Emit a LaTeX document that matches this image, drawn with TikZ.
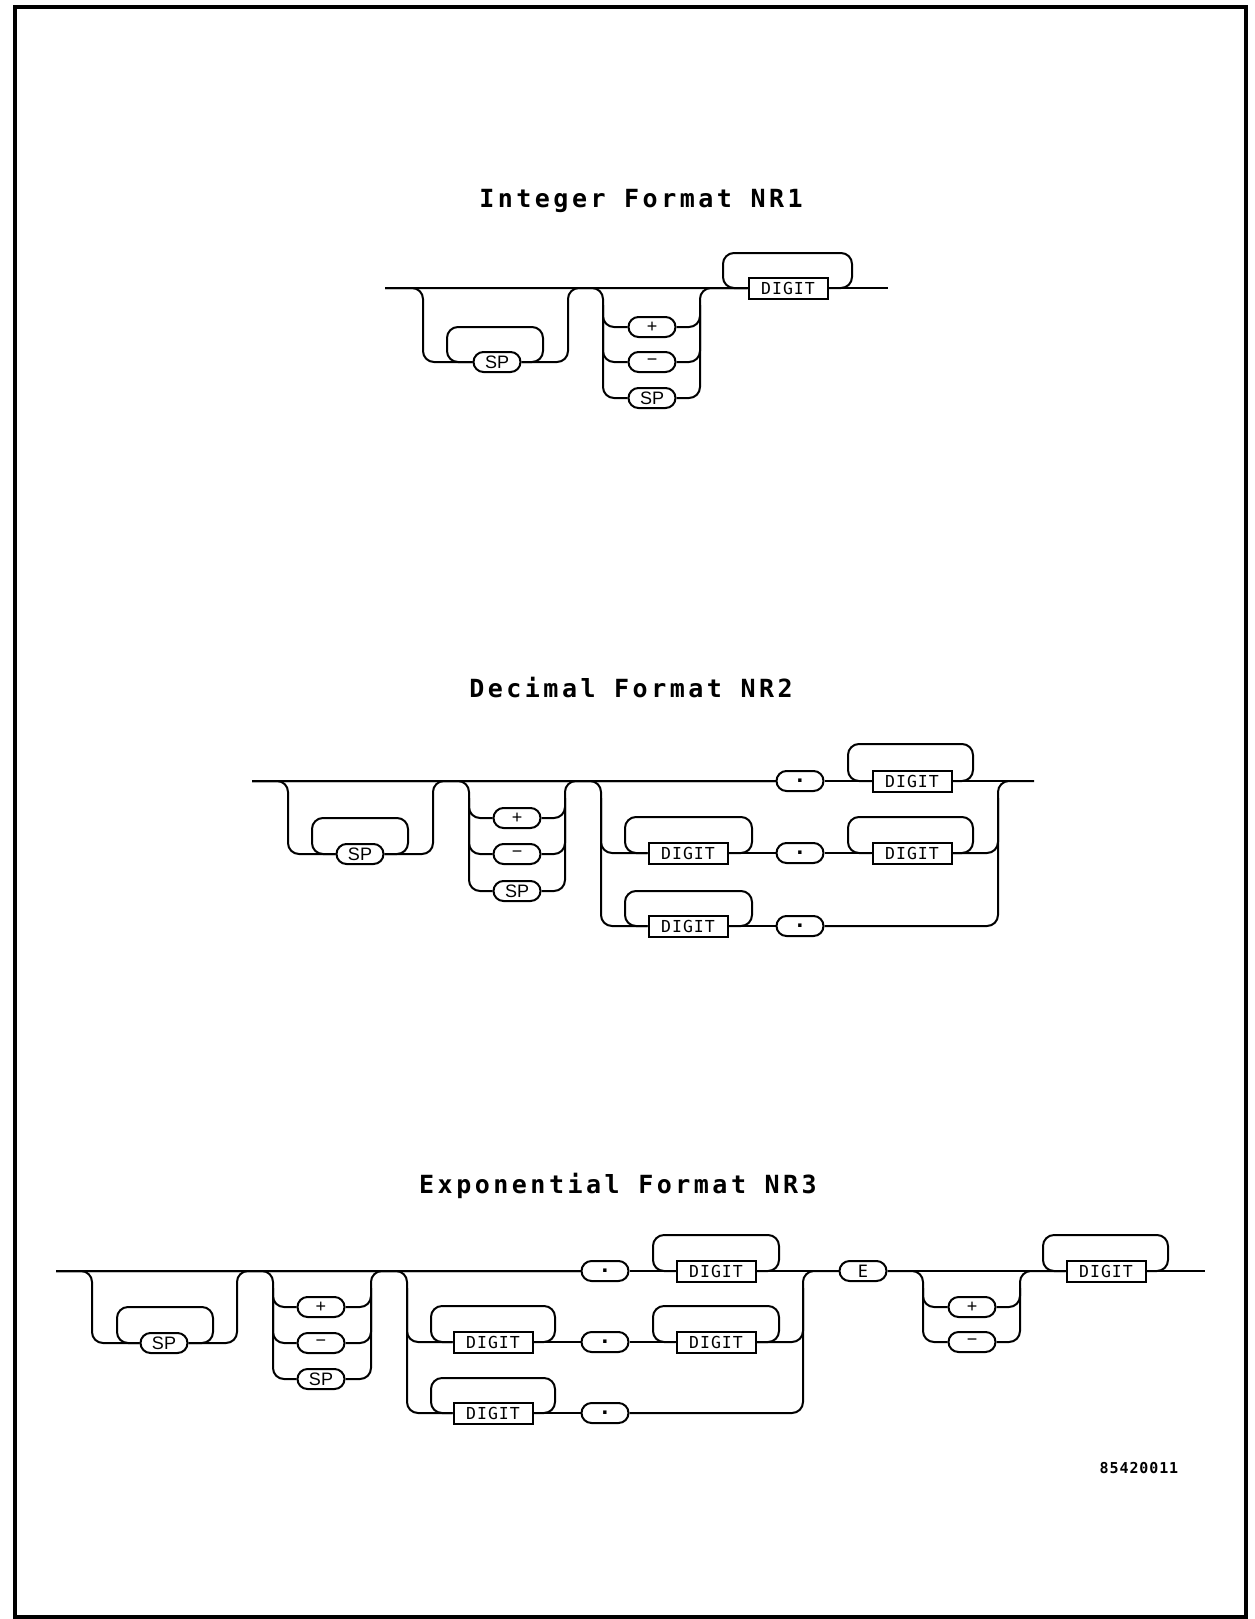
\documentclass[tikz,border=0pt]{standalone}
\usepackage{fontspec}
\usetikzlibrary{shapes.misc}
\newfontfamily\ttlfont[LetterSpace=14]{DejaVu Sans Mono}
\newfontfamily\boxfont[LetterSpace=6]{DejaVu Sans Mono}
\newfontfamily\ovlfont{Liberation Sans}

\begin{document}
\begin{tikzpicture}[
    x=1pt, y=-1pt,
    rail/.style={line width=2pt, rounded corners=11pt},
    term/.style={draw, line width=2pt, rounded rectangle, minimum width=47pt, minimum height=20pt, inner sep=0pt, font=\ovlfont\fontsize{18}{18}\selectfont},
    dot/.style={term, font=\ovlfont\bfseries\fontsize{24}{24}\selectfont},
    box/.style={draw, line width=2pt, minimum width=79pt, minimum height=21pt, inner sep=0pt, font=\boxfont\fontsize{16.5}{16.5}\selectfont},
    ttl/.style={font=\ttlfont\bfseries\fontsize{25}{25}\selectfont},
    lbl/.style={font=\boxfont\bfseries\fontsize{15}{15}\selectfont}
]
    \useasboundingbox (0,0) rectangle (1255,1619);
    \draw[line width=4.5pt] (15,7) rectangle (1246,1617);

    % Integer Format NR1
    \node[ttl] (t1) at (641,201) {Integer Format NR1};
    \coordinate (in1) at (385,288);
    \coordinate (out1) at (888,288);
    \node[term] (sp1) at (497,362) {SP};
    \node[term] (p1) at (652,327) {+};
    \node[term] (m1) at (652,362) {−};
    \node[term] (sq1) at (652,398) {SP};
    \node[box] (d1) at (788,288) {DIGIT};
    \draw[rail] (in1) -- (d1.west) (d1.east) -- (out1);
    \draw[rail] (in1) -| (423,362) -- (sp1.west);
    \draw[rail] (sp1.east) -| (568,288) -- (d1.west);
    \draw[rail] (sp1.east) -| (543,327) -- (447,327) |- (sp1.west);
    \draw[rail] (in1) -| (603,398) -- (sq1.west);
    \coordinate (j1) at (603,305);
    \draw[rail] (j1) |- (p1.west) (j1) |- (m1.west);
    \draw[rail] (sq1.east) -| (700,288) -- (d1.west);
    \coordinate (k1) at (700,305);
    \draw[rail] (p1.east) -| (k1) (m1.east) -| (k1);
    \draw[rail] (d1.east) -| (852,253) -- (723,253) |- (d1.west);

    % Decimal Format NR2
    \node[ttl] (t2) at (631,688) {Decimal Format NR2};
    \coordinate (in2) at (252,781);
    \coordinate (out2) at (1034,781);
    \node[term] (sp2) at (360,854) {SP};
    \node[term] (p2) at (517,818) {+};
    \node[term] (m2) at (517,854) {−};
    \node[term] (sq2) at (517,891) {SP};
    \node[dot] (pt2a) at (800,781) {\smash{\raisebox{-.07em}{.}}};
    \node[box] (d2a) at (912,781) {DIGIT};
    \node[box] (d2b) at (688,853) {DIGIT};
    \node[dot] (pt2b) at (800,853) {\smash{\raisebox{-.07em}{.}}};
    \node[box] (f2b) at (912,853) {DIGIT};
    \node[box] (d2c) at (688,926) {DIGIT};
    \node[dot] (pt2c) at (800,926) {\smash{\raisebox{-.07em}{.}}};
    \draw[rail] (in2) -- (pt2a.west) (pt2a.east) -- (d2a.west) (d2a.east) -- (out2);
    \draw[rail] (in2) -| (288,854) -- (sp2.west);
    \draw[rail] (sp2.east) -| (433,781) -- (pt2a.west);
    \draw[rail] (sp2.east) -| (408,818) -- (312,818) |- (sp2.west);
    \draw[rail] (in2) -| (469,891) -- (sq2.west);
    \coordinate (j2) at (469,798);
    \draw[rail] (j2) |- (p2.west) (j2) |- (m2.west);
    \draw[rail] (sq2.east) -| (565,781) -- (pt2a.west);
    \coordinate (k2) at (565,798);
    \draw[rail] (p2.east) -| (k2) (m2.east) -| (k2);
    \draw[rail] (in2) -| (601,926) -- (d2c.west);
    \coordinate (j2c) at (601,798);
    \draw[rail] (j2c) |- (d2b.west);
    \draw[rail] (d2b.east) -- (pt2b.west) (pt2b.east) -- (f2b.west);
    \draw[rail] (d2c.east) -- (pt2c.west);
    \draw[rail] (pt2c.east) -| (998,781) -- (out2);
    \coordinate (k2c) at (998,798);
    \draw[rail] (f2b.east) -| (k2c);
    \draw[rail] (d2a.east) -| (973,744) -- (848,744) |- (d2a.west);
    \draw[rail] (d2b.east) -| (752,817) -- (625,817) |- (d2b.west);
    \draw[rail] (f2b.east) -| (973,817) -- (848,817) |- (f2b.west);
    \draw[rail] (d2c.east) -| (752,891) -- (625,891) |- (d2c.west);

    % Exponential Format NR3
    \node[ttl] (t3) at (618,1186) {Exponential Format NR3};
    \coordinate (in3) at (56,1271);
    \coordinate (out3) at (1205,1271);
    \node[term] (sp3) at (164,1343) {SP};
    \node[term] (p3) at (321,1307) {+};
    \node[term] (m3) at (321,1343) {−};
    \node[term] (sq3) at (321,1379) {SP};
    \node[dot] (pt3a) at (605,1271) {\smash{\raisebox{-.07em}{.}}};
    \node[box] (d3a) at (716,1271) {DIGIT};
    \node[box] (d3b) at (493,1342) {DIGIT};
    \node[dot] (pt3b) at (605,1342) {\smash{\raisebox{-.07em}{.}}};
    \node[box] (f3b) at (716,1342) {DIGIT};
    \node[box] (d3c) at (493,1413) {DIGIT};
    \node[dot] (pt3c) at (605,1413) {\smash{\raisebox{-.07em}{.}}};
    \node[term, font=\boxfont\fontsize{17}{17}\selectfont] (ex3) at (863,1271) {E};
    \node[term] (p3e) at (972,1307) {+};
    \node[term] (m3e) at (972,1342) {−};
    \node[box] (dx3) at (1106,1271) {DIGIT};
    \draw[rail] (in3) -- (pt3a.west) (pt3a.east) -- (d3a.west) (d3a.east) -- (ex3.west)
        (ex3.east) -- (dx3.west) (dx3.east) -- (out3);
    \draw[rail] (in3) -| (92,1343) -- (sp3.west);
    \draw[rail] (sp3.east) -| (237,1271) -- (pt3a.west);
    \draw[rail] (sp3.east) -| (213,1307) -- (117,1307) |- (sp3.west);
    \draw[rail] (in3) -| (273,1379) -- (sq3.west);
    \coordinate (j3) at (273,1288);
    \draw[rail] (j3) |- (p3.west) (j3) |- (m3.west);
    \draw[rail] (sq3.east) -| (371,1271) -- (pt3a.west);
    \coordinate (k3) at (371,1288);
    \draw[rail] (p3.east) -| (k3) (m3.east) -| (k3);
    \draw[rail] (in3) -| (407,1413) -- (d3c.west);
    \coordinate (j3c) at (407,1288);
    \draw[rail] (j3c) |- (d3b.west);
    \draw[rail] (d3b.east) -- (pt3b.west) (pt3b.east) -- (f3b.west);
    \draw[rail] (d3c.east) -- (pt3c.west);
    \draw[rail] (pt3c.east) -| (803,1271) -- (ex3.west);
    \coordinate (k3c) at (803,1288);
    \draw[rail] (f3b.east) -| (k3c);
    \draw[rail] (d3a.east) -| (779,1235) -- (653,1235) |- (d3a.west);
    \draw[rail] (d3b.east) -| (555,1306) -- (431,1306) |- (d3b.west);
    \draw[rail] (f3b.east) -| (779,1306) -- (653,1306) |- (f3b.west);
    \draw[rail] (d3c.east) -| (555,1378) -- (431,1378) |- (d3c.west);
    \draw[rail] (ex3.east) -| (923,1342) -- (m3e.west);
    \coordinate (j3d) at (923,1288);
    \draw[rail] (j3d) |- (p3e.west);
    \draw[rail] (m3e.east) -| (1020,1271) -- (dx3.west);
    \coordinate (k3d) at (1020,1288);
    \draw[rail] (p3e.east) -| (k3d);
    \draw[rail] (dx3.east) -| (1168,1235) -- (1043,1235) |- (dx3.west);

    \node[lbl] (code) at (1139,1468) {85420011};
\end{tikzpicture}
\end{document}
